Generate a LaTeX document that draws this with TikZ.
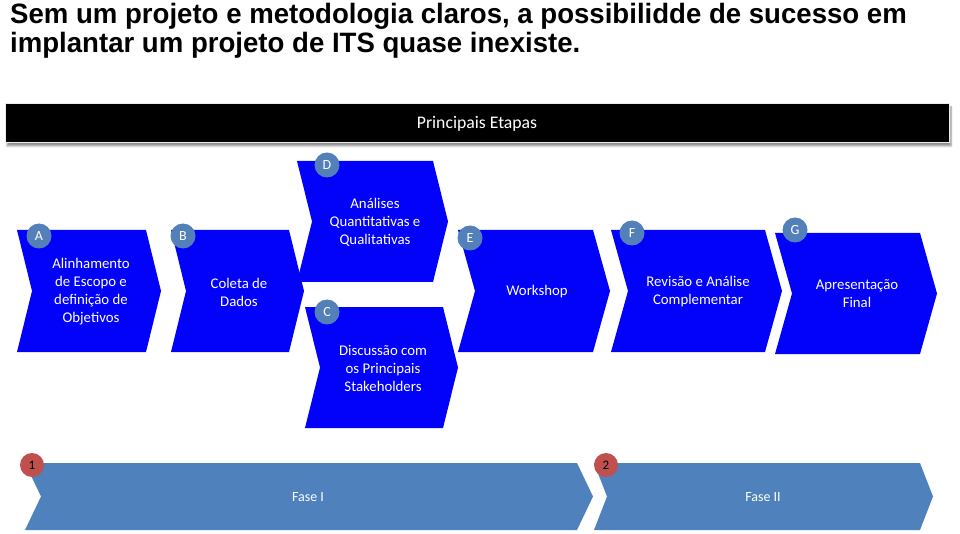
\documentclass[tikz,border=0pt]{standalone}
\usepackage{fontspec}
\setmainfont{Carlito}
\newfontfamily\titlefont{Liberation Sans}
\usetikzlibrary{shadows.blur}
\definecolor{chevblue}{RGB}{2,2,250}
\definecolor{badgeblue}{RGB}{84,128,186}
\definecolor{phaseblue}{RGB}{79,129,189}
\definecolor{badgered}{RGB}{192,80,77}
\newcommand\chevshape[6]{%
  \fill[#1] (#2,#4) -- (#3,#4) -- ({#3+#6},{(#4+#5)/2}) -- (#3,#5) -- (#2,#5) -- ({#2+#6},{(#4+#5)/2}) -- cycle;}
\tikzset{
  steptext/.style={text=white, align=center, font=\fontsize{14.8}{18}\selectfont, inner sep=0pt},
  badge/.style={circle, fill=badgeblue, text=white, minimum size=25pt, inner sep=0pt, font=\fontsize{14}{16}\selectfont},
  redbadge/.style={circle, fill=badgered, text=black, minimum size=24pt, inner sep=0pt, font=\fontsize{13}{15}\selectfont},
  phasetext/.style={text=white, font=\fontsize{14}{16}\selectfont, inner sep=0pt},
  titleline/.style={anchor=base west, inner sep=0pt, font=\titlefont\bfseries\fontsize{28}{30}\selectfont}
}
\begin{document}
\begin{tikzpicture}[x=1pt,y=-1pt]
\useasboundingbox (0,0) rectangle (960,534);
% title
\node[titleline] (t1) at (10,24) {\scalebox{0.985}[1]{Sem um projeto e metodologia claros, a possibilidde de sucesso em}};
\node[titleline] (t2) at (10,53) {\scalebox{0.985}[1]{implantar um projeto de ITS quase inexiste.}};
% header bar
\node[draw=gray!15, line width=0.8pt, fill=black, minimum width=944pt, minimum height=39pt, inner sep=0pt,
  blur shadow={shadow xshift=2pt, shadow yshift=-4pt, shadow blur steps=6, shadow opacity=45}] (bar) at (477,122.5) {};
\node[text=white, font=\fontsize{17.7}{20}\selectfont] (bartext) at (477,124) {Principais Etapas};
% chevrons
\chevshape{chevblue}{297}{433}{161}{282}{15}
\chevshape{chevblue}{305}{443}{307}{428}{15}
\chevshape{chevblue}{17}{146}{230}{352}{15}
\chevshape{chevblue}{171}{289}{230}{352}{15}
\chevshape{chevblue}{458}{593}{230}{352}{17}
\chevshape{chevblue}{611}{765}{230}{352}{17}
\chevshape{chevblue}{775}{920}{233}{354}{17}
% step texts
\node[steptext] (ta) at (91,292) {Alinhamento\\de Escopo e\\definição de\\Objetivos};
\node[steptext] (tb) at (239,292) {Coleta de\\Dados};
\node[steptext] (td) at (375,222) {Análises\\Quantitativas e\\Qualitativas};
\node[steptext] (tc) at (383,368) {Discussão com\\os Principais\\Stakeholders};
\node[steptext] (te) at (537,292) {Workshop};
\node[steptext] (tf) at (698,292) {Revisão e Análise\\Complementar};
\node[steptext] (tg) at (857,294) {Apresentação\\Final};
% badges
\node[badge] (ba) at (39,236) {A};
\node[badge] (bb) at (183,236) {B};
\node[badge] (bd) at (327,165) {D};
\node[badge] (bc) at (327,312) {C};
\node[badge] (be) at (470,238) {E};
\node[badge] (bf) at (632,233) {F};
\node[badge] (bg) at (795,230) {G};
% phases
\chevshape{phaseblue}{25}{577}{463}{530}{16}
\chevshape{phaseblue}{594}{920}{463}{530}{13}
\node[phasetext] (f1) at (308,497) {Fase I};
\node[phasetext] (f2) at (763,497) {Fase II};
\node[redbadge] (r1) at (32,465) {1};
\node[redbadge] (r2) at (606,465) {2};
\end{tikzpicture}
\end{document}
